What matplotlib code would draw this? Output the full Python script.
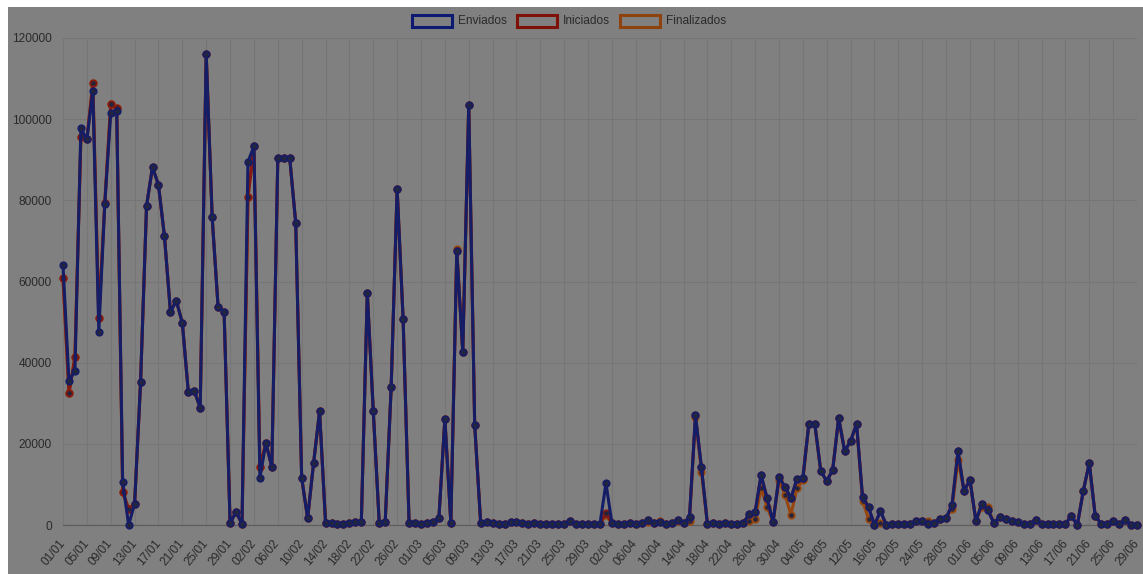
import numpy as np
import pandas as pd
import matplotlib
matplotlib.use('Agg')
import matplotlib.pyplot as plt
from matplotlib.patches import Rectangle

# dias (ano bissexto: 01/01 ate 29/06)
dias = pd.date_range('2020-01-01', '2020-06-29', freq='D').strftime('%d/%m').tolist()

enviados = [
    64000, 35500, 38000, 97800, 95000, 107000, 47600, 79000, 101500, 102000,
    10600, 0, 5200, 35200, 78600, 88200, 83800, 71200, 52600, 55200,
    49800, 32800, 33000, 28900, 116000, 75800, 53600, 52600, 500, 3200,
    300, 89500, 93300, 11600, 20200, 14300, 90400, 90400, 90400, 74500,
    11600, 1700, 15300, 28000, 600, 400, 200, 300, 500, 700,
    800, 57200, 28100, 500, 700, 34000, 82800, 50800, 500, 600,
    300, 500, 700, 1700, 26100, 500, 67500, 42600, 103400, 24600,
    500, 800, 600, 300, 300, 800, 700, 600, 300, 400,
    200, 200, 300, 200, 300, 900, 300, 200, 300, 200,
    300, 10300, 400, 300, 300, 400, 300, 500, 1200, 400,
    800, 300, 500, 1200, 400, 2000, 27000, 14200, 300, 400,
    300, 400, 300, 300, 400, 2700, 3200, 12300, 6600, 700,
    11800, 9400, 6600, 11300, 11600, 24900, 24900, 13300, 10800, 13600,
    26400, 18200, 20700, 24900, 6900, 4400, 0, 3400, 0, 300,
    200, 300, 200, 1000, 1000, 300, 500, 1500, 1700, 4900,
    18200, 8400, 11100, 1000, 5200, 3700, 500, 2000, 1500, 1000,
    700, 300, 300, 1200, 300, 200, 300, 300, 300, 2200,
    0, 8400, 15300, 2200, 300, 300, 1000, 300, 1200, 0,
    0,
]

iniciados = [
    60800, 32500, 41400, 95600, 95000, 108900, 51000, 79300, 103700, 102800,
    8100, 4000, 5200, 35200, 78600, 88200, 83800, 71200, 52600, 55200,
    49800, 32800, 33000, 28900, 116000, 75800, 53600, 52600, 500, 3200,
    300, 80800, 93300, 14300, 20200, 14300, 90400, 90400, 90400, 74500,
    11600, 1700, 15300, 28000, 600, 400, 200, 300, 500, 700,
    800, 57200, 28100, 500, 700, 34000, 82800, 50800, 500, 600,
    300, 500, 700, 1700, 26100, 500, 67500, 42600, 103400, 24600,
    500, 800, 600, 300, 300, 800, 700, 600, 300, 400,
    200, 200, 300, 200, 300, 900, 300, 200, 300, 200,
    300, 3000, 400, 300, 300, 400, 300, 500, 1200, 400,
    800, 300, 500, 1200, 400, 2000, 27000, 14200, 300, 400,
    300, 400, 300, 300, 400, 2700, 3200, 12300, 6600, 700,
    11800, 9400, 6600, 11300, 11600, 24900, 24900, 13300, 10800, 13600,
    26400, 18200, 20700, 24900, 6900, 4400, 0, 3400, 0, 300,
    200, 300, 200, 1000, 1000, 300, 500, 1500, 1700, 4900,
    18200, 8400, 11100, 1000, 5200, 3700, 500, 2000, 1500, 1000,
    700, 300, 300, 1200, 300, 200, 300, 300, 300, 2200,
    0, 8400, 15300, 2200, 300, 300, 1000, 300, 1200, 0,
    0,
]

finalizados = [
    60800, 32500, 41400, 95600, 95000, 108900, 51000, 79300, 103700, 102800,
    8100, 4000, 5200, 35200, 78600, 88200, 83800, 71200, 52600, 55200,
    49800, 32800, 33000, 28900, 116000, 75800, 53600, 52600, 500, 3200,
    300, 80800, 93300, 14300, 20200, 14300, 90400, 90400, 90400, 74500,
    11600, 1700, 15300, 28000, 600, 400, 200, 300, 500, 700,
    800, 57200, 28100, 500, 700, 34000, 82800, 50800, 500, 600,
    300, 500, 700, 1700, 26100, 500, 68000, 42600, 103400, 24600,
    500, 800, 600, 300, 300, 800, 700, 600, 300, 400,
    200, 200, 300, 200, 300, 900, 300, 200, 300, 200,
    300, 2500, 400, 300, 300, 400, 300, 500, 800, 400,
    1000, 300, 500, 1000, 400, 1000, 26500, 13000, 300, 400,
    300, 400, 300, 300, 400, 1000, 1500, 9000, 4500, 700,
    11000, 7500, 2500, 9000, 11000, 24900, 24900, 13300, 10800, 13600,
    26400, 18200, 20700, 24900, 6000, 1500, 0, 500, 0, 300,
    200, 300, 200, 1000, 1000, 1000, 500, 1500, 1700, 4000,
    16000, 8400, 11100, 1000, 4500, 4500, 500, 2000, 1500, 1000,
    700, 300, 300, 1200, 300, 200, 300, 300, 300, 2200,
    0, 8400, 15300, 2200, 300, 300, 1000, 300, 1200, 0,
    0,
]

series = [
    ('Enviados', enviados, '#141d66'),
    ('Iniciados', iniciados, '#861a10'),
    ('Finalizados', finalizados, '#96460f'),
]

W, H = 1143, 574
fundo = '#808080'
cor_texto = '#2a2a2a'
cor_grade = '#767676'

fig = plt.figure(figsize=(W / 100, H / 100), dpi=100, facecolor='white')
# faixa cinzenta (overlay escurecido)
fig.add_artist(Rectangle((8 / W, 0), 1 - 8 / W, 1 - 7 / H, transform=fig.transFigure,
                         facecolor=fundo, edgecolor='none', zorder=0))

x0, x1, ytop, ybot = 63, 1137, 38, 525
ax = fig.add_axes([x0 / W, 1 - ybot / H, (x1 - x0) / W, (ybot - ytop) / H])
ax.set_facecolor('none')

x = np.arange(len(dias))
# primeira serie fica por cima (como no chart.js)
for i, (nome, vals, cor) in enumerate(reversed(series)):
    ax.plot(x, vals, color=cor, linewidth=2.2, marker='o', markersize=4.6,
            markerfacecolor='#23253c', markeredgecolor=cor, markeredgewidth=1.3,
            clip_on=False, zorder=3 + i)

ax.set_xlim(0, len(dias) - 1)
ax.set_ylim(0, 120000)
ax.set_yticks(np.arange(0, 120001, 20000))
ax.set_xticks(x[::4])
ax.set_xticklabels(dias[::4], rotation=50, ha='right', va='center', rotation_mode='anchor')

ax.grid(True, color=cor_grade, linewidth=0.8)
ax.set_axisbelow(True)
for s in ['top', 'right', 'left']:
    ax.spines[s].set_visible(False)
ax.spines['bottom'].set_color('#5e5e5e')
ax.spines['bottom'].set_linewidth(0.9)
ax.tick_params(axis='both', length=0, colors=cor_texto, labelsize=8.6, labelfontfamily='Liberation Sans')
ax.tick_params(axis='y', pad=8)
ax.tick_params(axis='x', pad=12)

# legenda manual no topo
leg = [(412, 'Enviados', '#0e1a72'), (517, 'Iniciados', '#7e1208'), (620, 'Finalizados', '#8e420e')]
for px, nome, cor in leg:
    fig.add_artist(Rectangle((px / W, 1 - 27 / H), 40 / W, 12 / H, transform=fig.transFigure,
                             facecolor='none', edgecolor=cor, linewidth=2.2, zorder=5))
    fig.text((px + 46) / W, 1 - 21 / H, nome, ha='left', va='center', fontsize=8.6,
             color=cor_texto, family='Liberation Sans')

fig.savefig('out.png', dpi=100, facecolor=fig.get_facecolor())
